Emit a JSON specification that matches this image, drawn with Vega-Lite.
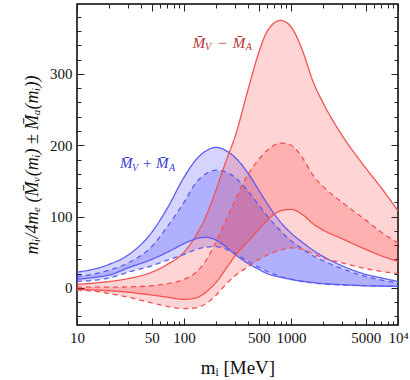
{
  "$schema": "https://vega.github.io/schema/vega-lite/v6.json",
  "width": 321,
  "height": 321,
  "autosize": "none",
  "padding": {"left": 77, "top": 4, "right": 12, "bottom": 55},
  "background": "white",
  "config": {
    "view": {"stroke": "black", "strokeWidth": 1.5},
    "font": "Liberation Serif",
    "axis": {"domain": false, "grid": false, "tickColor": "#222", "tickWidth": 1, "labelFont": "Liberation Serif", "labelFontSize": 15, "labelColor": "#111", "titleFont": "Liberation Serif", "titleFontWeight": "normal", "titleColor": "#111"}
  },
  "datasets": {
    "curves": [
      {"m":10,"grp":"plus","style":"solid","hi":22,"lo":12},{"m":10,"grp":"plus","style":"dashed","hi":16,"lo":9},{"m":10,"grp":"minus","style":"solid","hi":5,"lo":-2},{"m":10,"grp":"minus","style":"dashed","hi":1,"lo":-3},
      {"m":15,"grp":"plus","style":"solid","hi":27,"lo":15},{"m":15,"grp":"plus","style":"dashed","hi":20,"lo":11},{"m":15,"grp":"minus","style":"solid","hi":7,"lo":-3},{"m":15,"grp":"minus","style":"dashed","hi":1,"lo":-5},
      {"m":20,"grp":"plus","style":"solid","hi":33,"lo":18},{"m":20,"grp":"plus","style":"dashed","hi":25,"lo":14},{"m":20,"grp":"minus","style":"solid","hi":9,"lo":-4},{"m":20,"grp":"minus","style":"dashed","hi":1,"lo":-8},
      {"m":30,"grp":"plus","style":"solid","hi":46,"lo":28},{"m":30,"grp":"plus","style":"dashed","hi":35,"lo":22},{"m":30,"grp":"minus","style":"solid","hi":13,"lo":-6},{"m":30,"grp":"minus","style":"dashed","hi":1.5,"lo":-13},
      {"m":50,"grp":"plus","style":"solid","hi":78,"lo":40},{"m":50,"grp":"plus","style":"dashed","hi":58,"lo":31},{"m":50,"grp":"minus","style":"solid","hi":22,"lo":-10},{"m":50,"grp":"minus","style":"dashed","hi":3,"lo":-21},
      {"m":70,"grp":"plus","style":"solid","hi":112,"lo":50},{"m":70,"grp":"plus","style":"dashed","hi":86,"lo":39},{"m":70,"grp":"minus","style":"solid","hi":33,"lo":-13},{"m":70,"grp":"minus","style":"dashed","hi":6,"lo":-26},
      {"m":100,"grp":"plus","style":"solid","hi":155,"lo":62},{"m":100,"grp":"plus","style":"dashed","hi":120,"lo":47},{"m":100,"grp":"minus","style":"solid","hi":50,"lo":-16},{"m":100,"grp":"minus","style":"dashed","hi":12,"lo":-29},
      {"m":130,"grp":"plus","style":"solid","hi":180,"lo":69},{"m":130,"grp":"plus","style":"dashed","hi":148,"lo":54},{"m":130,"grp":"minus","style":"solid","hi":74,"lo":-14},{"m":130,"grp":"minus","style":"dashed","hi":22,"lo":-28},
      {"m":160,"grp":"plus","style":"solid","hi":192,"lo":71},{"m":160,"grp":"plus","style":"dashed","hi":160,"lo":57},{"m":160,"grp":"minus","style":"solid","hi":100,"lo":-6},{"m":160,"grp":"minus","style":"dashed","hi":38,"lo":-22},
      {"m":200,"grp":"plus","style":"solid","hi":197,"lo":67},{"m":200,"grp":"plus","style":"dashed","hi":165,"lo":58},{"m":200,"grp":"minus","style":"solid","hi":138,"lo":8},{"m":200,"grp":"minus","style":"dashed","hi":65,"lo":-10},
      {"m":250,"grp":"plus","style":"solid","hi":192,"lo":57},{"m":250,"grp":"plus","style":"dashed","hi":162,"lo":54},{"m":250,"grp":"minus","style":"solid","hi":180,"lo":28},{"m":250,"grp":"minus","style":"dashed","hi":97,"lo":6},
      {"m":300,"grp":"plus","style":"solid","hi":183,"lo":47},{"m":300,"grp":"plus","style":"dashed","hi":155,"lo":48},{"m":300,"grp":"minus","style":"solid","hi":212,"lo":45},{"m":300,"grp":"minus","style":"dashed","hi":123,"lo":17},
      {"m":400,"grp":"plus","style":"solid","hi":160,"lo":34},{"m":400,"grp":"plus","style":"dashed","hi":135,"lo":37},{"m":400,"grp":"minus","style":"solid","hi":280,"lo":66},{"m":400,"grp":"minus","style":"dashed","hi":160,"lo":30},
      {"m":500,"grp":"plus","style":"solid","hi":137,"lo":26},{"m":500,"grp":"plus","style":"dashed","hi":116,"lo":29},{"m":500,"grp":"minus","style":"solid","hi":330,"lo":82},{"m":500,"grp":"minus","style":"dashed","hi":180,"lo":40},
      {"m":600,"grp":"plus","style":"solid","hi":118,"lo":20},{"m":600,"grp":"plus","style":"dashed","hi":101,"lo":23},{"m":600,"grp":"minus","style":"solid","hi":360,"lo":95},{"m":600,"grp":"minus","style":"dashed","hi":193,"lo":46},
      {"m":800,"grp":"plus","style":"solid","hi":92,"lo":15},{"m":800,"grp":"plus","style":"dashed","hi":80,"lo":16},{"m":800,"grp":"minus","style":"solid","hi":375,"lo":108},{"m":800,"grp":"minus","style":"dashed","hi":203,"lo":53},
      {"m":1000,"grp":"plus","style":"solid","hi":77,"lo":12},{"m":1000,"grp":"plus","style":"dashed","hi":66,"lo":12},{"m":1000,"grp":"minus","style":"solid","hi":366,"lo":110},{"m":1000,"grp":"minus","style":"dashed","hi":200,"lo":56},
      {"m":1300,"grp":"plus","style":"solid","hi":63,"lo":9},{"m":1300,"grp":"plus","style":"dashed","hi":54,"lo":9},{"m":1300,"grp":"minus","style":"solid","hi":330,"lo":102},{"m":1300,"grp":"minus","style":"dashed","hi":181,"lo":54},
      {"m":1600,"grp":"plus","style":"solid","hi":53,"lo":7.5},{"m":1600,"grp":"plus","style":"dashed","hi":45,"lo":7},{"m":1600,"grp":"minus","style":"solid","hi":290,"lo":90},{"m":1600,"grp":"minus","style":"dashed","hi":158,"lo":48},
      {"m":2000,"grp":"plus","style":"solid","hi":44,"lo":6},{"m":2000,"grp":"plus","style":"dashed","hi":38,"lo":5.5},{"m":2000,"grp":"minus","style":"solid","hi":259,"lo":81},{"m":2000,"grp":"minus","style":"dashed","hi":142,"lo":42},
      {"m":3000,"grp":"plus","style":"solid","hi":31,"lo":4.5},{"m":3000,"grp":"plus","style":"dashed","hi":27,"lo":4},{"m":3000,"grp":"minus","style":"solid","hi":214,"lo":69},{"m":3000,"grp":"minus","style":"dashed","hi":120,"lo":35},
      {"m":5000,"grp":"plus","style":"solid","hi":19,"lo":3},{"m":5000,"grp":"plus","style":"dashed","hi":16,"lo":3},{"m":5000,"grp":"minus","style":"solid","hi":168,"lo":54},{"m":5000,"grp":"minus","style":"dashed","hi":95,"lo":27},
      {"m":7000,"grp":"plus","style":"solid","hi":14,"lo":2.5},{"m":7000,"grp":"plus","style":"dashed","hi":11,"lo":2.5},{"m":7000,"grp":"minus","style":"solid","hi":140,"lo":45},{"m":7000,"grp":"minus","style":"dashed","hi":78,"lo":23},
      {"m":10000,"grp":"plus","style":"solid","hi":9,"lo":2},{"m":10000,"grp":"plus","style":"dashed","hi":7,"lo":2},{"m":10000,"grp":"minus","style":"solid","hi":108,"lo":37},{"m":10000,"grp":"minus","style":"dashed","hi":63,"lo":20}
    ],
    "labels": [
      {"t":"M̄","m":121,"y":337,"grp":"minus","k":"main"},
      {"t":"V","m":157,"y":333,"grp":"minus","k":"sub"},
      {"t":"−","m":205,"y":337,"grp":"minus","k":"main"},
      {"t":"M̄","m":285,"y":337,"grp":"minus","k":"main"},
      {"t":"A","m":378,"y":333,"grp":"minus","k":"sub"},
      {"t":"M̄","m":25.2,"y":168,"grp":"plus","k":"main"},
      {"t":"V","m":32.7,"y":164,"grp":"plus","k":"sub"},
      {"t":"+","m":40.5,"y":168,"grp":"plus","k":"main"},
      {"t":"M̄","m":54.7,"y":168,"grp":"plus","k":"main"},
      {"t":"A","m":72.4,"y":164,"grp":"plus","k":"sub"}
    ]
  },
  "layer": [
    {
      "mark": {"type": "rule", "color": "#c8c8c8", "strokeWidth": 1},
      "encoding": {"y": {"datum": 0, "type": "quantitative", "axis": null}}
    },
    {
      "data": {"name": "curves"},
      "mark": {"type": "area", "interpolate": "monotone", "fillOpacity": 0.17, "stroke": null},
      "encoding": {
        "x": {"field": "m", "type": "quantitative", "scale": {"type": "log", "domain": [10, 10000]},
          "axis": {"orient": "bottom", "values": [10,20,30,40,50,60,70,80,90,100,200,300,400,500,600,700,800,900,1000,2000,3000,4000,5000,6000,7000,8000,9000,10000],
            "labelExpr": "datum.value == 10000 ? '10⁴' : (indexof([10,50,100,500,1000,5000], datum.value) >= 0 ? '' + datum.value : '')",
            "tickSize": {"condition": {"test": "indexof([10,50,100,500,1000,5000,10000], datum.value) >= 0", "value": -7}, "value": -4},
            "labelPadding": 12, "labelFlush": false, "labelOverlap": false,
            "title": "mᵢ [MeV]", "titleFontSize": 19, "titlePadding": 10}},
        "y": {"field": "hi", "type": "quantitative", "scale": {"domain": [-52, 398], "nice": false, "zero": false},
          "axis": {"orient": "left", "values": [-40,-20,0,20,40,60,80,100,120,140,160,180,200,220,240,260,280,300,320,340,360,380],
            "labelExpr": "datum.value % 100 == 0 ? '' + datum.value : ''",
            "tickSize": {"condition": {"test": "datum.value % 100 == 0", "value": -7}, "value": -4},
            "labelPadding": 12, "labelOverlap": false,
            "title": "mᵢ/4mₑ (M̄ᵥ(mᵢ) ± M̄ₐ(mᵢ))", "titleFontSize": 18, "titleFontStyle": "italic", "titlePadding": 8}},
        "y2": {"field": "lo"},
        "fill": {"field": "grp", "type": "nominal", "scale": {"domain": ["plus", "minus"], "range": ["#0000ff", "#ff0000"]}, "legend": null},
        "detail": {"field": "style"}
      }
    },
    {
      "data": {"name": "curves"},
      "mark": {"type": "line", "interpolate": "monotone", "strokeWidth": 1.3},
      "encoding": {
        "x": {"field": "m", "type": "quantitative",
          "axis": {"orient": "top", "values": [10,20,30,40,50,60,70,80,90,100,200,300,400,500,600,700,800,900,1000,2000,3000,4000,5000,6000,7000,8000,9000,10000],
            "labels": false, "title": null,
            "tickSize": {"condition": {"test": "indexof([10,50,100,500,1000,5000,10000], datum.value) >= 0", "value": -7}, "value": -4}}},
        "y": {"field": "hi", "type": "quantitative",
          "axis": {"orient": "right", "values": [-40,-20,0,20,40,60,80,100,120,140,160,180,200,220,240,260,280,300,320,340,360,380],
            "labels": false, "title": null,
            "tickSize": {"condition": {"test": "datum.value % 100 == 0", "value": -7}, "value": -4}}},
        "stroke": {"field": "grp", "type": "nominal", "scale": {"domain": ["plus", "minus"], "range": ["#5c5cf2", "#f25252"]}, "legend": null},
        "strokeDash": {"field": "style", "type": "nominal", "scale": {"domain": ["solid", "dashed"], "range": [[1, 0], [5, 4]]}, "legend": null}
      }
    },
    {
      "data": {"name": "curves"},
      "mark": {"type": "line", "interpolate": "monotone", "strokeWidth": 1.3},
      "encoding": {
        "x": {"field": "m", "type": "quantitative", "axis": null},
        "y": {"field": "lo", "type": "quantitative", "axis": null},
        "stroke": {"field": "grp", "type": "nominal", "legend": null},
        "strokeDash": {"field": "style", "type": "nominal", "legend": null}
      }
    },
    {
      "data": {"name": "labels"},
      "transform": [{"filter": "datum.k == 'main'"}],
      "mark": {"type": "text", "align": "left", "baseline": "alphabetic", "fontSize": 15, "fontStyle": "italic", "font": "Liberation Serif"},
      "encoding": {
        "x": {"field": "m", "type": "quantitative", "axis": null},
        "y": {"field": "y", "type": "quantitative", "axis": null},
        "text": {"field": "t"},
        "color": {"field": "grp", "type": "nominal", "scale": {"domain": ["plus", "minus"], "range": ["#3a3ad0", "#b83232"]}, "legend": null}
      }
    },
    {
      "data": {"name": "labels"},
      "transform": [{"filter": "datum.k == 'sub'"}],
      "mark": {"type": "text", "align": "left", "baseline": "alphabetic", "fontSize": 10, "fontStyle": "italic", "font": "Liberation Serif"},
      "encoding": {
        "x": {"field": "m", "type": "quantitative", "axis": null},
        "y": {"field": "y", "type": "quantitative", "axis": null},
        "text": {"field": "t"},
        "color": {"field": "grp", "type": "nominal", "legend": null}
      }
    }
  ],
  "resolve": {"axis": {"x": "independent", "y": "independent"}}
}
